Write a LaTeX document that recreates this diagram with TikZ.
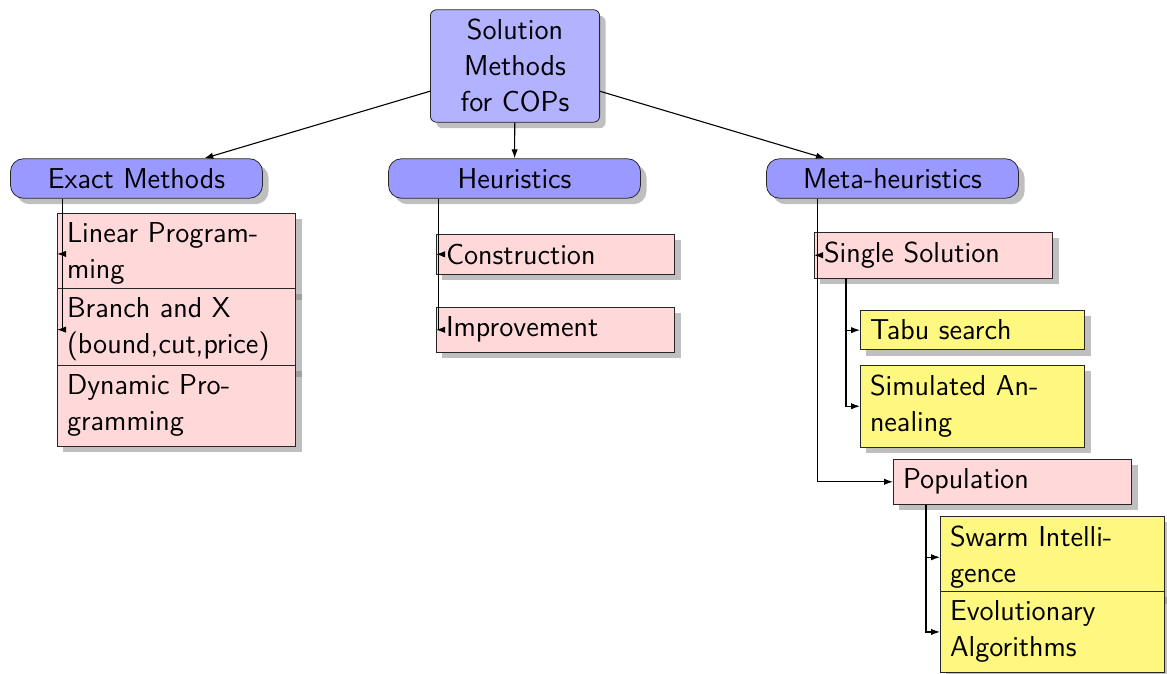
\documentclass[tikz,border=0pt]{standalone}
\usetikzlibrary{shadows,calc,arrows.meta}
\begin{document}
\begin{tikzpicture}[x=0.5pt,y=-0.5pt,
  font=\sffamily\Large,
  every node/.style={inner sep=4.8pt},
  shad/.style={drop shadow={shadow xshift=3pt,shadow yshift=-3pt}},
  rootbox/.style={draw=black!85,fill=blue!30,rounded corners=3pt,shad,text width=75pt,align=center,inner ysep=4.8pt},
  pill/.style={draw=black!85,fill=blue!40,rounded corners=6.5pt,shad,minimum width=126pt,minimum height=19.5pt},
  pinkbox/.style={draw=black!85,fill=red!15,shad,text width=109.5pt,align=left,anchor=north west},
  yelbox/.style={draw=black!85,fill=yellow!50,shad,text width=102.5pt,align=left,anchor=north west},
  conn/.style={-{Latex[length=4.5pt,width=3.2pt]},line width=0.55pt},
]
\useasboundingbox (0,0) rectangle (1167,674);

\node[rootbox] (root) at (515,66) {Solution\\Methods\\for COPs};
\node[pill] (exact) at (136.5,178.5) {Exact Methods};
\node[pill] (heur) at (514.5,178.5) {Heuristics};
\node[pill] (meta) at (892.5,178.5) {Meta-heuristics};

\node[pinkbox] (lp) at (57,213) {Linear Program-\\ming};
\node[pinkbox] (bx) at (57,288) {Branch and X\\(bound,cut,price)};
\node[pinkbox] (dp) at (57,365) {Dynamic Pro-\\gramming};

\node[pinkbox] (cons) at (436,234) {Construction};
\node[pinkbox] (impr) at (436,307) {Improvement};

\node[pinkbox] (ss) at (814,232) {Single Solution};
\node[yelbox] (tabu) at (860,310) {Tabu search};
\node[yelbox] (sa) at (860,365) {Simulated An-\\nealing};
\node[pinkbox] (pop) at (893,459) {Population};
\node[yelbox] (sw) at (940,516) {Swarm Intelli-\\gence};
\node[yelbox] (ev) at (940,591) {Evolutionary\\Algorithms};

\draw[conn] (root) -- (exact);
\draw[conn] (root) -- (heur);
\draw[conn] (root) -- (meta);

\coordinate (e0) at ($(exact.south west)+(52,0)$);
\draw[conn] (e0) |- (lp.west);
\draw[conn] (e0) |- (bx.west);

\coordinate (h0) at ($(heur.south west)+(50,0)$);
\draw[conn] (h0) |- (cons.west);
\draw[conn] (h0) |- (impr.west);

\coordinate (m0) at ($(meta.south west)+(51,0)$);
\draw[conn] (m0) |- (ss.west);
\draw[conn] (m0) |- (pop.west);

\coordinate (s0) at ($(ss.south west)+(32,0)$);
\draw[conn] (s0) |- (tabu.west);
\draw[conn] (s0) |- (sa.west);

\coordinate (p0) at ($(pop.south west)+(33,0)$);
\draw[conn] (p0) |- (sw.west);
\draw[conn] (p0) |- (ev.west);
\end{tikzpicture}
\end{document}
